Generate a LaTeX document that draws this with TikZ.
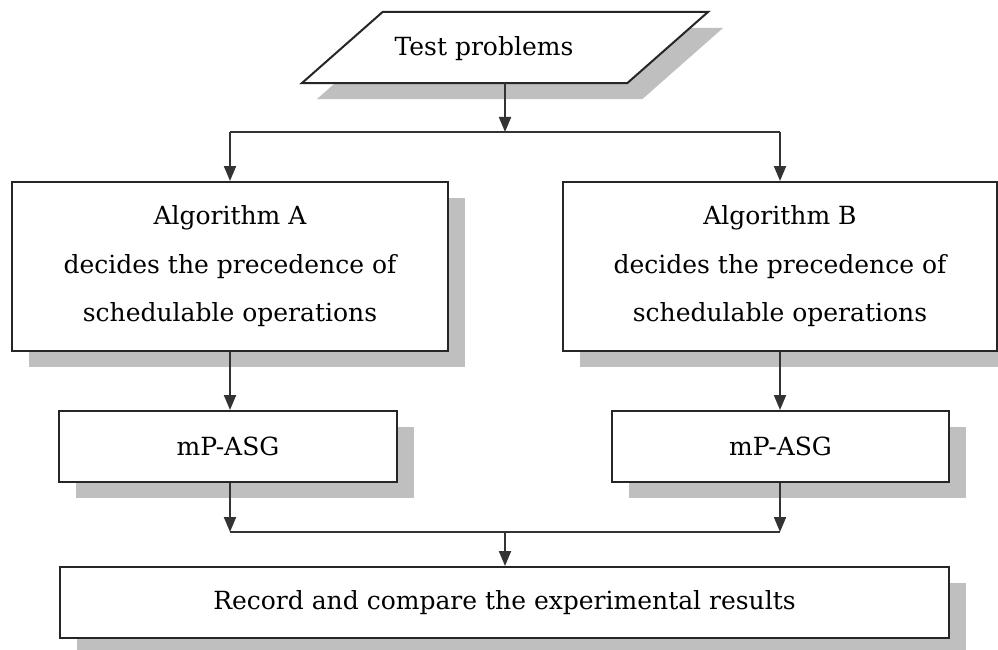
\documentclass[tikz,border=0pt]{standalone}
\usepackage{fontspec}
\setmainfont{DejaVu Serif}
\usetikzlibrary{arrows.meta,shadows}
\begin{document}
\begin{tikzpicture}[x=1pt,y=-1pt,
  box/.style={draw=black!85, line width=2pt, fill=white, inner sep=0pt, align=center,
    font=\fontsize{25}{48.5}\selectfont,
    drop shadow={shadow xshift=17pt, shadow yshift=-16pt, fill=black!25, opacity=1}},
  lbl/.style={inner sep=0pt, font=\fontsize{25}{48.5}\selectfont},
  conn/.style={draw=black!80, line width=2pt},
  arr/.style={conn, -{Triangle[width=12pt,length=15pt]}},
]
\clip (0,0) rectangle (998,650);
\fill[white] (0,0) rectangle (998,650);

% input parallelogram
\node[minimum width=325pt, minimum height=71pt, inner sep=0pt] (tp) at (505,47.5) {};
\fill[black!25] ([xshift=55.5pt,yshift=-16pt]tp.north west) -- ([xshift=55.5pt,yshift=-16pt]tp.north east)
  -- ([xshift=-25.5pt,yshift=-16pt]tp.south east) -- ([xshift=-25.5pt,yshift=-16pt]tp.south west) -- cycle;
\draw[draw=black!85, line width=2pt, fill=white] ([xshift=40.5pt]tp.north west) -- ([xshift=40.5pt]tp.north east)
  -- ([xshift=-40.5pt]tp.south east) -- ([xshift=-40.5pt]tp.south west) -- cycle;
\node[lbl] (tptext) at (484,49) {Test problems};

% algorithm boxes
\node[box, minimum width=436pt, minimum height=169pt] (algA) at (230,266.5)
  {Algorithm A\\ decides the precedence of\\ schedulable operations};
\node[box, minimum width=434pt, minimum height=169pt] (algB) at (780,266.5)
  {Algorithm B\\ decides the precedence of\\ schedulable operations};

% mP-ASG boxes
\node[box, minimum width=338pt, minimum height=71pt] (mpA) at (228,446.5) {mP-ASG};
\node[box, minimum width=337pt, minimum height=71pt] (mpB) at (780.5,446.5) {mP-ASG};

% result box
\node[box, minimum width=889pt, minimum height=71pt] (res) at (504.5,602.5)
  {Record and compare the experimental results};

% connectors
\coordinate (j1) at (505,132);
\coordinate (j2) at (505,532);
\draw[arr] (tp.south) -- (j1);
\draw[conn] (algA.north |- j1) -- (algB.north |- j1);
\draw[arr] (algA.north |- j1) -- (algA.north);
\draw[arr] (algB.north |- j1) -- (algB.north);
\draw[arr] (algA.south) -- (algA.south |- mpA.north);
\draw[arr] (algB.south) -- (algB.south |- mpB.north);
\draw[arr] (algA.south |- mpA.south) -- (algA.south |- j2);
\draw[arr] (algB.south |- mpB.south) -- (algB.south |- j2);
\draw[conn] (algA.south |- j2) -- (algB.south |- j2);
\draw[arr] (j2) -- (j2 |- res.north);
\end{tikzpicture}
\end{document}
